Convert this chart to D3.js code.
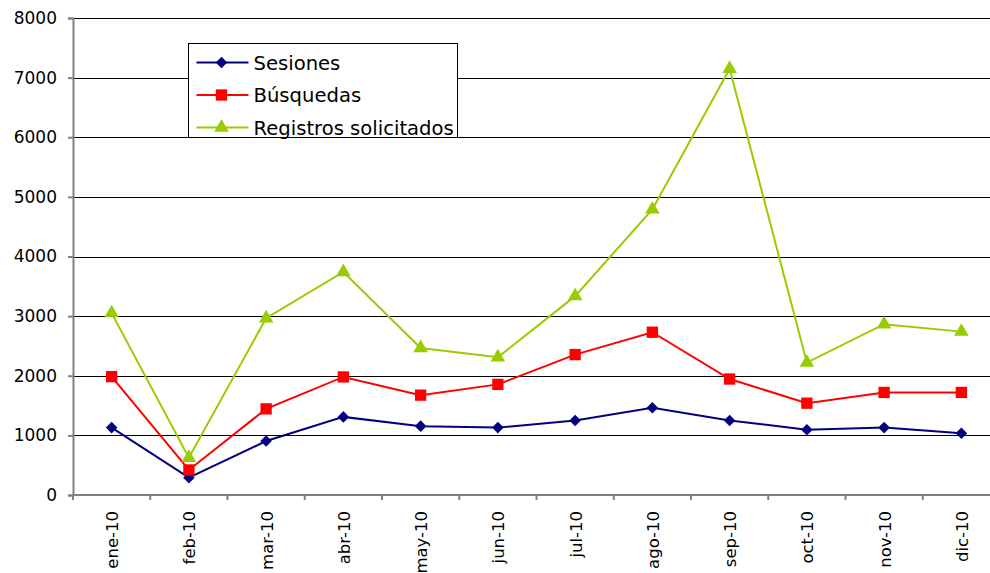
<!DOCTYPE html>
<html>
<head>
<meta charset="utf-8">
<script src="https://cdn.jsdelivr.net/npm/d3@7"></script>
<style>
  body { margin: 0; background: #fff; }
  svg { display: block; font-family: "DejaVu Sans", Verdana, sans-serif; }
</style>
</head>
<body>
<div id="chart"></div>
<script>
// months and values
var months = ["ene-10", "feb-10", "mar-10", "abr-10", "may-10", "jun-10",
              "jul-10", "ago-10", "sep-10", "oct-10", "nov-10", "dic-10"];
var sesiones = [1130, 290, 905, 1310, 1155, 1130, 1250, 1465, 1250, 1095, 1130, 1035];
var busquedas = [1985, 420, 1445, 1980, 1675, 1855, 2355, 2730, 1945, 1540, 1720, 1720];
var registros = [3050, 625, 2965, 3740, 2465, 2310, 3335, 4790, 7150, 2220, 2865, 2740];
var yTicks = [0, 1000, 2000, 3000, 4000, 5000, 6000, 7000, 8000];

var seriesNames = ["Sesiones", "Búsquedas", "Registros solicitados"];
var seriesColors = ["#000080", "#ff0000", "#99cc00"];
var seriesData = [sesiones, busquedas, registros];

var width = 990, height = 573;
var margin = {top: 18, right: -10, bottom: 78, left: 73};
var w = width - margin.left - margin.right,
    h = height - margin.top - margin.bottom;
var fontFam = '"DejaVu Sans", Verdana, sans-serif';

var svg = d3.select("#chart").append("svg")
    .attr("width", width)
    .attr("height", height);

var g = svg.append("g")
    .attr("transform", "translate(" + margin.left + "," + margin.top + ")");

var x = d3.scaleBand().domain(months).range([0, w]);
var y = d3.scaleLinear().domain([0, 8000]).range([h, 0]);

// gridlines
g.selectAll(".grid")
  .data(yTicks.slice(1))
  .enter().append("line")
    .attr("x1", 0).attr("x2", w)
    .attr("y1", function(d) { return Math.round(y(d)) + 0.5; })
    .attr("y2", function(d) { return Math.round(y(d)) + 0.5; })
    .attr("stroke", "#000")
    .attr("stroke-width", 1);

// y axis
var yAxis = g.append("g")
  .call(d3.axisLeft(y).tickValues(yTicks).tickSize(5).tickPadding(11).tickFormat(d3.format("d")))
  .attr("font-family", fontFam)
  .attr("font-size", 17);
yAxis.select(".domain").attr("stroke", "#808080").attr("stroke-width", 2);
yAxis.selectAll(".tick line").attr("stroke", "#808080").attr("stroke-width", 2);
yAxis.selectAll("text").attr("fill", "#000");

// x axis - ticks sit between categories
var xAxis = g.append("g")
  .attr("transform", "translate(0," + h + ")")
  .attr("font-family", fontFam);
xAxis.append("line")
  .attr("x1", 0).attr("x2", w).attr("y1", 0).attr("y2", 0)
  .attr("stroke", "#808080").attr("stroke-width", 2);
xAxis.selectAll(".xt")
  .data(months)
  .enter().append("line")
    .attr("x1", function(d) { return x(d); })
    .attr("x2", function(d) { return x(d); })
    .attr("y1", 0).attr("y2", 5)
    .attr("stroke", "#808080").attr("stroke-width", 2);
xAxis.selectAll(".xl")
  .data(months)
  .enter().append("text")
    .attr("transform", function(d) {
      return "translate(" + (x(d) + x.bandwidth() / 2 + 6.5) + ",16) rotate(-90)";
    })
    .attr("text-anchor", "end")
    .attr("font-size", 16.5)
    .text(function(d) { return d; });

var cx = function(i) { return x(months[i]) + x.bandwidth() / 2; };

var line = d3.line()
  .x(function(d, i) { return cx(i); })
  .y(function(d) { return y(d); });

var symbols = [
  d3.symbol().type(d3.symbolDiamond2).size(85),
  d3.symbol().type(d3.symbolSquare).size(128),
  d3.symbol().type(d3.symbolTriangle).size(92)
];

seriesData.forEach(function(vals, k) {
  g.append("path")
    .datum(vals)
    .attr("d", line)
    .attr("fill", "none")
    .attr("stroke", seriesColors[k])
    .attr("stroke-width", 2);

  g.selectAll(".m" + k)
    .data(vals)
    .enter().append("path")
      .attr("transform", function(d, i) { return "translate(" + cx(i) + "," + y(d) + ")"; })
      .attr("d", symbols[k])
      .attr("fill", seriesColors[k]);
});

// legend
var legend = svg.append("g").attr("transform", "translate(188.5,43.5)");
legend.append("rect")
  .attr("width", 269).attr("height", 94)
  .attr("fill", "#fff").attr("stroke", "#000").attr("stroke-width", 1);

seriesNames.forEach(function(name, k) {
  var ly = 19 + k * 32.5;
  legend.append("line")
    .attr("x1", 8).attr("x2", 60).attr("y1", ly).attr("y2", ly)
    .attr("stroke", seriesColors[k]).attr("stroke-width", 2);
  legend.append("path")
    .attr("transform", "translate(33," + ly + ")")
    .attr("d", symbols[k])
    .attr("fill", seriesColors[k]);
  legend.append("text")
    .attr("x", 65).attr("y", ly + 7)
    .style("font-size", "19.6px")
    .text(name);
});
</script>
</body>
</html>
